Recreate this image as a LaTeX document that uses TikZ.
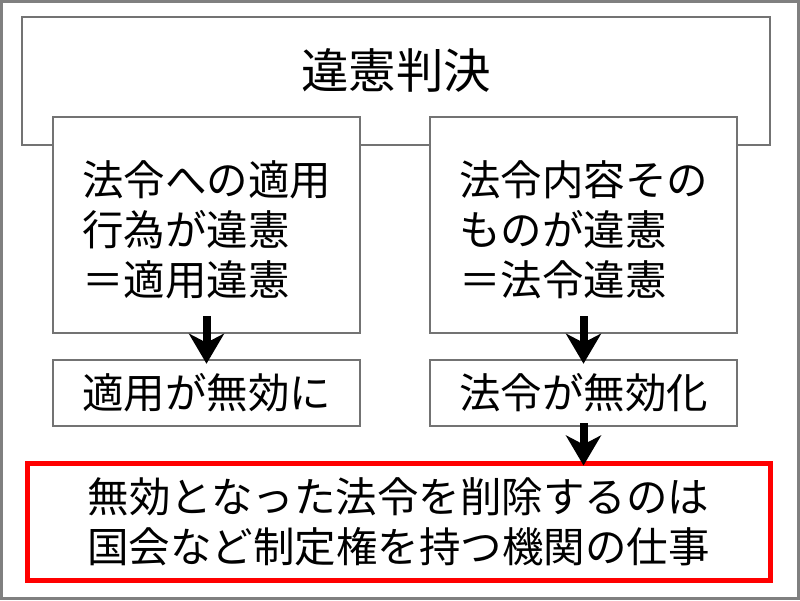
\documentclass[tikz,border=0pt]{standalone}
\usepackage{fontspec}
\setmainfont{Noto Sans CJK JP}
\usetikzlibrary{arrows.meta,positioning}
\tikzset{box/.style={rectangle,draw=black!55,line width=2.5pt,fill=white,inner sep=0pt}}
\tikzset{downarrow/.style={-{Stealth[length=30pt,width=35pt,inset=9pt]},line width=8pt}}
\newcommand{\bodyfont}{\fontsize{41.5}{50}\selectfont}
\newcommand{\titlefont}{\fontsize{47.5}{56}\selectfont}

\begin{document}
\begin{tikzpicture}[x=1pt,y=1pt]
\useasboundingbox (0,0) rectangle (800,600);
\draw[gray,line width=3pt] (1.5,1.5) rectangle (798.5,598.5);
%
\node (verdict) [box,minimum width=748pt,minimum height=128pt,label={[font=\titlefont,yshift=11pt]center:違憲判決}] at (396,519) {};
\node (applied) [box,minimum width=307pt,minimum height=216pt,font=\bodyfont,align=left,text height=144pt] at (206.5,375) {法令への適用\\行為が違憲\\＝適用違憲};
\node (content) [box,minimum width=307pt,minimum height=216pt,font=\bodyfont,align=left,text height=144pt] at (583.5,375) {法令内容その\\ものが違憲\\＝法令違憲};
\node (voidapply) [box,minimum width=307pt,minimum height=66pt,font=\bodyfont] at (206.5,207) {適用が無効に};
\node (voidlaw) [box,minimum width=307pt,minimum height=66pt,font=\bodyfont] at (583.5,207) {法令が無効化};
\node (repeal) [box,draw=red,line width=5pt,minimum width=743pt,minimum height=117pt,font=\bodyfont,align=center] at (398.5,78.5) {無効となった法令を削除するのは\\国会など制定権を持つ機関の仕事};
%
\draw[downarrow] ([yshift=18pt]applied.south) -- ([yshift=-5pt]voidapply.north);
\draw[downarrow] ([yshift=18pt]content.south) -- ([yshift=-5pt]voidlaw.north);
\draw[downarrow] ([yshift=4pt]voidlaw.south) -- ([yshift=-5pt]repeal.north -| voidlaw.south);
\end{tikzpicture}
\end{document}
